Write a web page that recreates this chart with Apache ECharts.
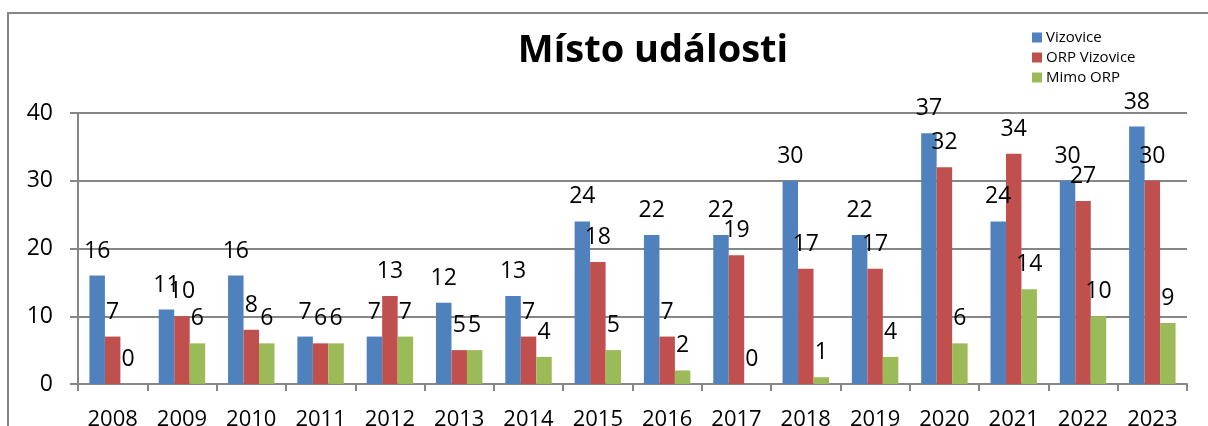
<!DOCTYPE html>
<html>
<head>
<meta charset="utf-8">
<script src="https://cdn.jsdelivr.net/npm/echarts@6/dist/echarts.min.js"></script>
<style>
html,body{margin:0;padding:0;background:#fff;}
#c{width:1208px;height:426px;}
</style>
</head>
<body>
<div id="c"></div>
<script>
var years = ['2008','2009','2010','2011','2012','2013','2014','2015','2016','2017','2018','2019','2020','2021','2022','2023'];
var vizovice = [16,11,16,7,7,12,13,24,22,22,30,22,37,24,30,38];
var orpVizovice = [7,10,8,6,13,5,7,18,7,19,17,17,32,34,27,30];
var mimoOrp = [0,6,6,6,7,5,4,5,2,0,1,4,6,14,10,9];
var seriesNames = ['Vizovice','ORP Vizovice','Mimo ORP'];
var colors = ['#4F81BD','#C0504D','#9BBB59'];

var FONT = '"Open Sans", Lato, sans-serif';
var chart = echarts.init(document.getElementById('c'), null, {renderer:'canvas'});
function mk(name, data, color){
  return {
    name: name, type: 'bar', data: data,
    barGap: '0%', barCategoryGap: '33%',
    itemStyle: {color: color},
    label: {show: true, position: 'top', distance: 13, color: '#000', fontSize: 23, fontFamily: FONT},
    emphasis: {disabled: true}
  };
}
chart.setOption({
  animation: false,
  backgroundColor: '#fff',
  legend: {
    orient: 'vertical', left: 1027, top: 25, itemWidth: 10, itemHeight: 10, itemGap: 5,
    icon: 'rect',
    textStyle: {fontSize: 15, color: '#000', fontFamily: FONT, padding: [0,0,0,-1]},
    data: seriesNames
  },
  graphic: [{
    type: 'rect', silent: true,
    shape: {x: 8, y: 13, width: 1300, height: 500},
    style: {fill: 'none', stroke: '#868686', lineWidth: 2}
  }, {
    type: 'text', silent: true,
    style: {
      text: 'Místo události', x: 653, y: 51,
      textAlign: 'center', textVerticalAlign: 'middle',
      fontSize: 38, fontWeight: 'bold', fontFamily: FONT, fill: '#000'
    }
  }],
  grid: {left: 78, right: 21, top: 113, bottom: 42, containLabel: false, outerBoundsMode: 'none'},
  xAxis: {
    type: 'category', data: years,
    axisLine: {lineStyle: {color: '#868686', width: 2}},
    axisTick: {show: true, length: 7, lineStyle: {color: '#868686', width: 2}},
    axisLabel: {fontSize: 22, color: '#000', fontFamily: FONT, margin: 25},
    splitLine: {show: false}
  },
  yAxis: {
    type: 'value', min: 0, max: 40, interval: 10,
    axisLine: {show: true, lineStyle: {color: '#868686', width: 2}},
    axisTick: {show: true, length: 8, lineStyle: {color: '#868686', width: 2}},
    axisLabel: {fontSize: 23, color: '#000', fontFamily: FONT, margin: 25},
    splitLine: {show: true, lineStyle: {color: '#868686', width: 2}}
  },
  series: [
    mk(seriesNames[0], vizovice, colors[0]),
    mk(seriesNames[1], orpVizovice, colors[1]),
    mk(seriesNames[2], mimoOrp, colors[2])
  ]
});
</script>
</body>
</html>
